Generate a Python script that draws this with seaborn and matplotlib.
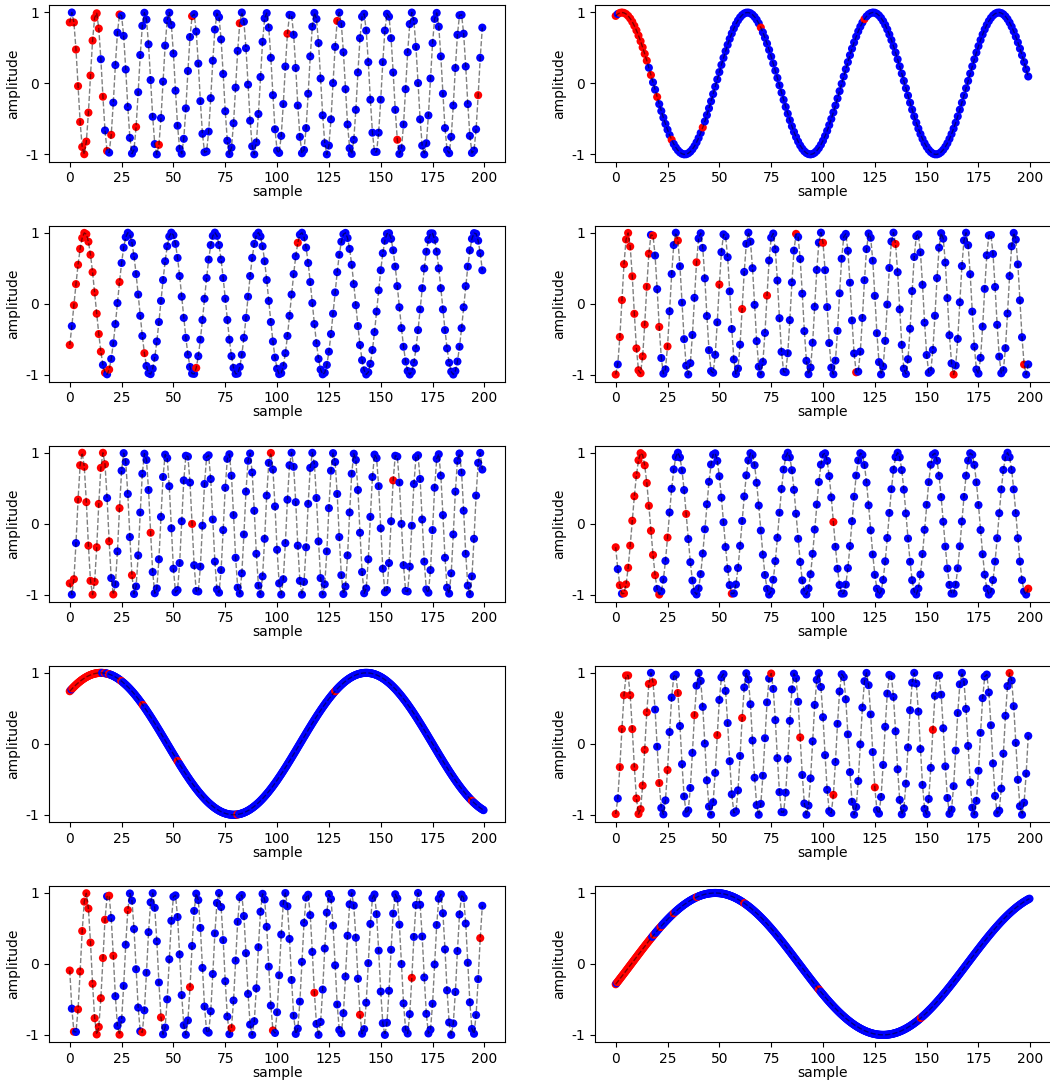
import numpy as np
import pandas as pd
import matplotlib
matplotlib.use("Agg")
import matplotlib.pyplot as plt
import seaborn as sns

# ---------------------------------- Panel parameters ----------------------------------

# period of each sine wave, in samples
periods = [11.72, 60.6, 20.9, 11.647, 10.1, 17.67, 128.0, 11.54, 10.677, 162.0]
# sample position of a peak (phase)
peaks = [1.0, 3.0, 7.3, 5.82, 5.97, 12.3, 15.0, 5.5, 7.85, 48.0]
# number of points drawn over the 0..200 sample range
n_points = [200, 200, 200, 200, 200, 200, 500, 200, 200, 500]

# red (observed) samples: ranges and single positions, in sample units
red_spans = [
    [(0, 0), (2, 14)],
    [(0, 0), (2, 15)],
    [(0, 0), (2, 15)],
    [(0, 0), (2, 16)],
    [(0, 0), (2, 2), (4, 17)],
    [(0, 0), (2, 2), (4, 19)],
    [(0, 0.4), (1.2, 15.0)],
    [(0, 0), (2, 16)],
    [(0, 0), (2, 2), (4, 17)],
    [(0, 0), (0.8, 17.4)],
]
red_points = [
    [16, 18, 20, 24, 32, 43, 59, 82, 105, 129, 158, 197],
    [17, 20, 27, 42, 70, 120],
    [17, 19, 24, 36, 61, 110],
    [18, 21, 25, 30, 39, 50, 61, 73, 87, 100, 116, 135, 163, 197],
    [19, 21, 24, 30, 39, 59, 97, 156],
    [21, 25, 34, 56, 105, 199],
    [16.8, 18.8, 25, 35, 52, 81, 128, 194],
    [18, 21, 25, 30, 38, 49, 61, 75, 89, 105, 125, 153, 190],
    [19, 21, 24, 28, 35, 44, 58, 78, 98, 118, 140, 165, 198],
    [18.4, 21.6, 27.8, 39.2, 62, 98, 147],
]

# ---------------------------------- Plot ----------------------------------

plt.rcParams["axes.unicode_minus"] = False

fig, axes = plt.subplots(5, 2, figsize=(10.5, 10.8), dpi=100)
plt.subplots_adjust(left=0.0467, right=1.001, top=0.995, bottom=0.0352,
                    wspace=0.197, hspace=0.41)

for i, ax in enumerate(axes.flatten()):
    n = n_points[i]
    step = 200.0 / n
    x = np.arange(n) * step
    y = np.cos(2 * np.pi * (x - peaks[i]) / periods[i])

    red = np.zeros(n, dtype=bool)
    for a, b in red_spans[i]:
        red[int(round(a / step)):int(round(b / step)) + 1] = True
    # on the dense panels a single observed sample covers two neighbouring points
    width = 1 if n <= 200 else 2
    for p in red_points[i]:
        k = min(int(round(p / step)), n - 1)
        red[k:k + width] = True

    df = pd.DataFrame({"sample": x, "amplitude": y,
                       "kind": np.where(red, "red", "blue")})

    sns.scatterplot(data=df, x="sample", y="amplitude", hue="kind",
                    palette={"red": "#ff0000", "blue": "#0000ff"},
                    s=34, linewidth=0, legend=False, ax=ax)
    # dashed connecting line, half-transparent black on top of the dots
    sns.lineplot(data=df, x="sample", y="amplitude", color="black", alpha=0.5,
                 linestyle="--", linewidth=1, estimator=None, sort=False,
                 ax=ax, zorder=3)

    ax.set_xlim(-10, 210)
    ax.set_ylim(-1.1, 1.1)
    ax.set_xticks([0, 25, 50, 75, 100, 125, 150, 175, 200])
    ax.set_yticks([-1, 0, 1])
    ax.set_xlabel("sample", labelpad=0)
    ax.set_ylabel("amplitude")

plt.savefig("out.png", dpi=100)
